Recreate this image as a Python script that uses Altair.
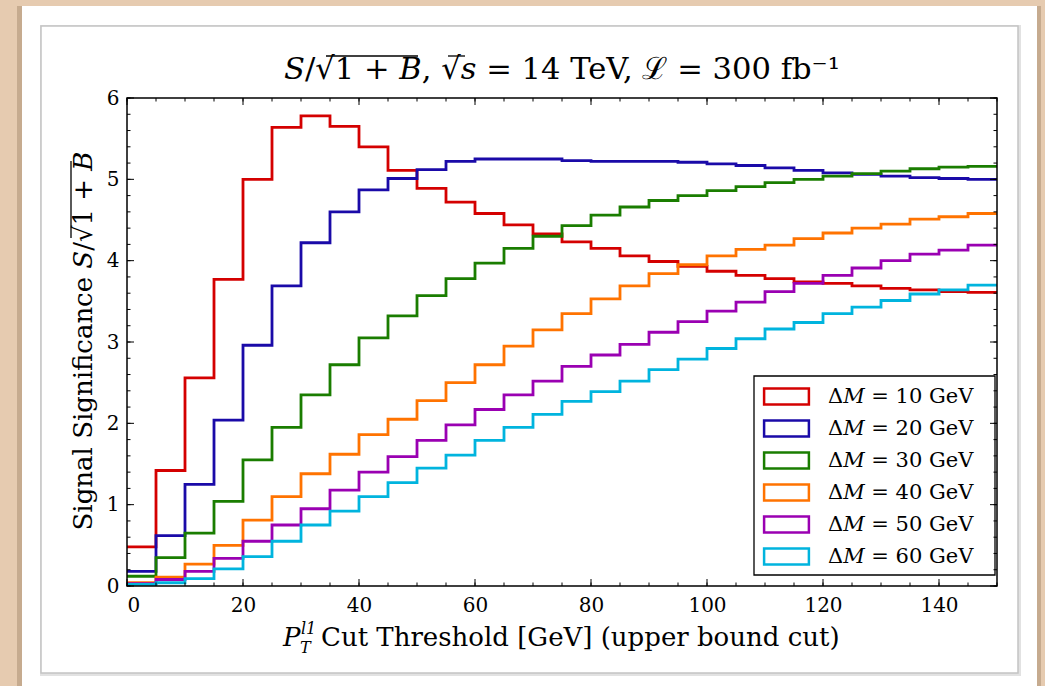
import altair as alt
import pandas as pd

# Lower edges of the 5 GeV cut-threshold bins (0 ... 145), upper end of the axis
bin_lo = list(range(0, 150, 5))
x_end = 150

series = ["ΔM = 10 GeV", "ΔM = 20 GeV", "ΔM = 30 GeV",
          "ΔM = 40 GeV", "ΔM = 50 GeV", "ΔM = 60 GeV"]
colors = ["#d40000", "#1a0aa8", "#1a7d00", "#ff7300", "#9a00b2", "#00b4de"]

# Signal significance S/sqrt(1+B) per bin
dm10 = [0.48, 1.42, 2.56, 3.77, 5.00, 5.64, 5.78, 5.65, 5.40, 5.11,
        4.89, 4.72, 4.58, 4.44, 4.33, 4.23, 4.15, 4.06, 3.99, 3.93,
        3.87, 3.82, 3.78, 3.74, 3.72, 3.69, 3.66, 3.64, 3.62, 3.61]
dm20 = [0.18, 0.62, 1.25, 2.04, 2.96, 3.69, 4.22, 4.60, 4.87, 5.01,
        5.12, 5.22, 5.25, 5.25, 5.25, 5.23, 5.22, 5.22, 5.22, 5.21,
        5.19, 5.17, 5.14, 5.11, 5.08, 5.06, 5.04, 5.02, 5.01, 5.00]
dm30 = [0.12, 0.35, 0.65, 1.04, 1.55, 1.95, 2.35, 2.72, 3.05, 3.32,
        3.57, 3.78, 3.97, 4.15, 4.30, 4.43, 4.56, 4.66, 4.74, 4.80,
        4.86, 4.91, 4.96, 5.00, 5.04, 5.07, 5.10, 5.13, 5.15, 5.16]
dm40 = [0.04, 0.11, 0.27, 0.50, 0.81, 1.10, 1.38, 1.62, 1.86, 2.05,
        2.28, 2.50, 2.72, 2.95, 3.15, 3.35, 3.53, 3.69, 3.84, 3.95,
        4.06, 4.14, 4.19, 4.27, 4.34, 4.40, 4.45, 4.51, 4.54, 4.58]
dm50 = [0.03, 0.08, 0.18, 0.34, 0.55, 0.75, 0.95, 1.18, 1.40, 1.59,
        1.79, 1.98, 2.17, 2.35, 2.52, 2.70, 2.84, 2.97, 3.12, 3.25,
        3.38, 3.49, 3.62, 3.72, 3.82, 3.91, 4.00, 4.08, 4.13, 4.19]
dm60 = [0.02, 0.04, 0.09, 0.21, 0.36, 0.55, 0.75, 0.92, 1.10, 1.27,
        1.45, 1.61, 1.79, 1.95, 2.11, 2.27, 2.39, 2.52, 2.66, 2.79,
        2.92, 3.04, 3.16, 3.24, 3.35, 3.43, 3.51, 3.59, 3.64, 3.70]

x_major = list(range(0, 141, 20))
x_minor = list(range(0, 151, 5))
y_major = [0, 1, 2, 3, 4, 5, 6]
y_minor = [round(i * 0.2, 1) for i in range(31)]

title_text = "𝑆/√1 + 𝐵, √𝑠 = 14 TeV, ℒ = 300 fb⁻¹"
ytitle_text = "Signal Significance 𝑆/√1 + 𝐵"
xtitle_text = "Cut Threshold [GeV] (upper bound cut)"

SERIF = "DejaVu Serif"
W, H = 870, 488

# Step-histogram outline: one point per bin edge, last value repeated at the end
rows = []
for name, vals in zip(series, [dm10, dm20, dm30, dm40, dm50, dm60]):
    for x, v in zip(bin_lo + [x_end], vals + [vals[-1]]):
        rows.append({"series": name, "x": x, "y": v})
df = pd.DataFrame(rows)

one = pd.DataFrame({"k": [0]})
xs = alt.Scale(domain=[0, 150], nice=False, zero=False)
ys = alt.Scale(domain=[0, 6], nice=False, zero=False)

# Card behind the plot
shadow = alt.Chart(one).mark_rect(color="#b89c82", opacity=0.7).encode(
    x=alt.value(-110), x2=alt.value(914), y=alt.value(-92), y2=alt.value(600))
card = alt.Chart(one).mark_rect(color="white").encode(
    x=alt.value(-105), x2=alt.value(910), y=alt.value(-92), y2=alt.value(600))
frame_shadow = alt.Chart(one).mark_rect(fill="white", stroke="#e2e2e2", strokeWidth=4).encode(
    x=alt.value(-85), x2=alt.value(892), y=alt.value(-71), y2=alt.value(576))
frame = alt.Chart(one).mark_rect(fill="white", stroke="#c4c4c4", strokeWidth=1.5).encode(
    x=alt.value(-86), x2=alt.value(891), y=alt.value(-72), y2=alt.value(575))

lines = alt.Chart(df).mark_line(interpolate="step-after", strokeWidth=2.8).encode(
    x=alt.X("x:Q", scale=xs,
            axis=alt.Axis(values=x_major, ticks=False, domain=False, grid=False,
                          title=None, labelFont=SERIF, labelFontSize=20, format="d",
                          labelColor="black", labelPadding=9, zindex=1)),
    y=alt.Y("y:Q", scale=ys,
            axis=alt.Axis(values=y_major, ticks=False, domain=False, grid=False,
                          title=None, labelFont=SERIF, labelFontSize=20, format="d",
                          labelColor="black", labelPadding=8, zindex=1)),
    color=alt.Color("series:N",
                    scale=alt.Scale(domain=series, range=colors),
                    legend=alt.Legend(
                        orient="none", legendX=642, legendY=281, title=None,
                        labelExpr="replace(datum.label, 'ΔM', 'Δ𝑀')",
                        symbolType="M-2.8,-1H2.8V1H-2.8Z", symbolSize=256,
                        symbolStrokeWidth=2.5, symbolFillColor="white",
                        labelFont=SERIF, labelFontSize=21, labelColor="black",
                        labelOffset=31, rowPadding=5, padding=7)),
)

# Legend frame (white box with a black outline) under the legend entries
legend_box = alt.Chart(one).mark_rect(fill="white", stroke="black", strokeWidth=1.3).encode(
    x=alt.value(627), x2=alt.value(868), y=alt.value(278), y2=alt.value(477))

border = alt.Chart(one).mark_rect(fill=None, stroke="black", strokeWidth=1.5).encode(
    x=alt.value(0), x2=alt.value(W), y=alt.value(0), y2=alt.value(H))

def xticks(vals, length):
    d = pd.DataFrame({"v": vals})
    bottom = alt.Chart(d).mark_rule(color="black", strokeWidth=1).encode(
        x=alt.X("v:Q", scale=xs), y=alt.value(H), y2=alt.value(H - length))
    top = alt.Chart(d).mark_rule(color="black", strokeWidth=1).encode(
        x=alt.X("v:Q", scale=xs), y=alt.value(0), y2=alt.value(length))
    return [bottom, top]

def yticks(vals, length):
    d = pd.DataFrame({"v": vals})
    left = alt.Chart(d).mark_rule(color="black", strokeWidth=1).encode(
        y=alt.Y("v:Q", scale=ys), x=alt.value(0), x2=alt.value(length))
    right = alt.Chart(d).mark_rule(color="black", strokeWidth=1).encode(
        y=alt.Y("v:Q", scale=ys), x=alt.value(W), x2=alt.value(W - length))
    return [left, right]

ticks = xticks(x_minor, 3.5) + xticks(x_major, 7) + yticks(y_minor, 3.5) + yticks(y_major, 7)

def label(text, x, y, size, align="left", style="normal", angle=0, baseline="alphabetic"):
    return alt.Chart(pd.DataFrame({"t": [text]})).mark_text(
        font=SERIF, fontSize=size, fontStyle=style, color="black",
        align=align, baseline=baseline, angle=angle).encode(
        text="t:N", x=alt.value(x), y=alt.value(y))

def bar(x1, x2, y1, y2):
    # radical vinculum drawn as a thin rule
    return alt.Chart(one).mark_rule(color="black", strokeWidth=1.3).encode(
        x=alt.value(x1), x2=alt.value(x2), y=alt.value(y1), y2=alt.value(y2))

texts = [
    label(title_text, W / 2, -19, 30.6, align="center"),
    bar(199, 291, -42, -42),
    bar(321, 338, -42, -42),
    label(ytitle_text, -35, 243, 26, align="center", angle=270),
    bar(-56, -56, 63, 140),
    label("P", 156, 548, 26, style="italic"),
    label("l1", 174, 536, 16, style="italic"),
    label("T", 173, 555, 16, style="italic"),
    label(xtitle_text, 194, 548, 26),
]

chart = alt.layer(shadow, card, frame_shadow, frame, lines, legend_box, border,
                  *ticks, *texts).properties(
    width=W, height=H,
    background="#e6cbb0",
    autosize=alt.AutoSizeParams(type="none"),
    padding={"left": 127, "top": 98, "right": 48, "bottom": 100},
).configure_view(strokeWidth=0)

chart.save("out.html", embed_options={"renderer": "svg", "actions": False})
